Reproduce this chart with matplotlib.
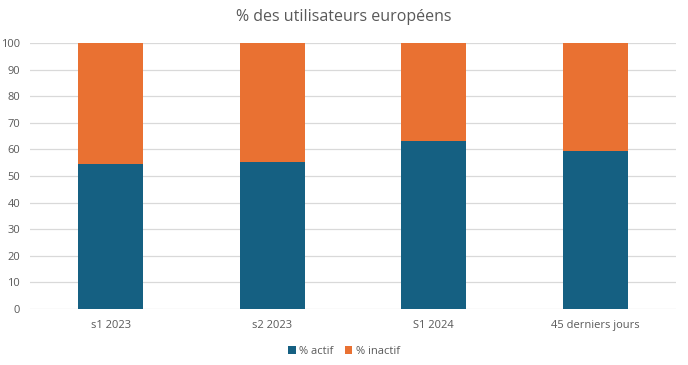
import numpy as np
import matplotlib
matplotlib.use("Agg")
import matplotlib.pyplot as plt

plt.rcParams['font.family'] = ['Open Sans', 'DejaVu Sans']

categories = ["s1 2023", "s2 2023", "S1 2024", "45 derniers jours"]
actif = [54.6, 55.2, 63.1, 59.4]
inactif = [100 - v for v in actif]

blue = "#156082"
orange = "#E97132"
grey = "#595959"

fig = plt.figure(figsize=(6.88, 3.65), dpi=100)
ax = fig.add_axes([30 / 688, 1 - 309 / 365, 646 / 688, 266 / 365])

x = np.arange(len(categories))
ax.bar(x, actif, width=0.4, color=blue, label="% actif", zorder=3)
ax.bar(x, inactif, width=0.4, bottom=actif, color=orange, label="% inactif", zorder=3)

ax.set_xlim(-0.5, len(categories) - 0.5)
ax.set_ylim(0, 100)
ax.set_yticks(np.arange(0, 101, 10))
ax.set_xticks(x)
ax.set_xticklabels(categories)
ax.yaxis.grid(True, color="#D9D9D9", linewidth=0.9, zorder=0)
for s in ax.spines.values():
    s.set_visible(False)
ax.tick_params(axis="both", length=0, labelsize=8, colors=grey)
ax.tick_params(axis="x", pad=8)
ax.tick_params(axis="y", pad=7)

fig.text(0.5, 1 - 17 / 365, "% des utilisateurs européens", ha="center", va="center",
         fontsize=11.5, color=grey)

fig.legend(loc="center", bbox_to_anchor=(0.5, 1 - 351 / 365), ncol=2, frameon=False,
           fontsize=8, labelcolor=grey, handlelength=0.7, handleheight=0.7,
           handletextpad=0.3, columnspacing=1.0)

fig.savefig("out.png", dpi=100)
